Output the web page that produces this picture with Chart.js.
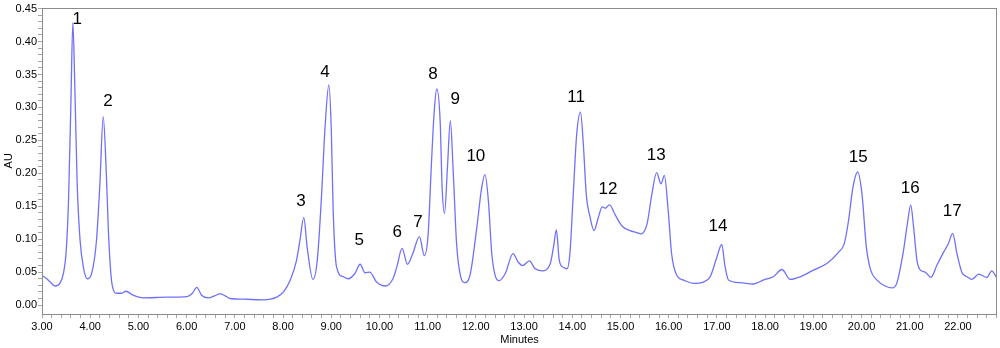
<!DOCTYPE html>
<html>
<head>
<meta charset="utf-8">
<script src="https://cdn.jsdelivr.net/npm/chart.js@4/dist/chart.umd.min.js"></script>
<style>
  html, body { margin: 0; padding: 0; background: #fff; }
  #wrap { width: 1000px; height: 348px; position: relative; }
</style>
</head>
<body>
<div id="wrap"><canvas id="chromChart"></canvas></div>
<script>
// Retention times (minutes) and absorbance (AU)
const times = [
  3.00, 3.10, 3.17, 3.27, 3.37, 3.45, 3.50, 3.55, 3.60, 3.64, 3.68, 3.73, 3.79, 3.86, 3.94,
  4.03, 4.13, 4.20, 4.27, 4.33, 4.38, 4.45, 4.55, 4.65, 4.74, 4.89, 5.10, 5.59, 6.01, 6.12,
  6.21, 6.31, 6.45, 6.58, 6.69, 6.80, 6.90, 7.18, 7.59, 7.87, 8.01, 8.15, 8.28, 8.35, 8.43,
  8.50, 8.62, 8.71, 8.80, 8.87, 8.95, 9.00, 9.04, 9.11, 9.25, 9.35, 9.49, 9.60, 9.70, 9.80,
  9.94, 10.12, 10.28, 10.36, 10.47, 10.58, 10.69, 10.83, 10.93, 11.01, 11.08, 11.14, 11.19, 11.26, 11.30,
  11.35, 11.41, 11.47, 11.53, 11.60, 11.67, 11.76, 11.88, 12.02, 12.12, 12.19, 12.26, 12.33, 12.40, 12.48,
  12.61, 12.77, 12.88, 12.97, 13.11, 13.23, 13.37, 13.54, 13.61, 13.67, 13.73, 13.82, 13.89, 13.95, 14.02,
  14.09, 14.17, 14.23, 14.29, 14.37, 14.45, 14.54, 14.62, 14.68, 14.77, 14.89, 15.03, 15.20, 15.34, 15.42,
  15.55, 15.65, 15.75, 15.84, 15.91, 15.99, 16.06, 16.17, 16.31, 16.51, 16.72, 16.86, 17.00, 17.10, 17.17,
  17.24, 17.48, 17.76, 17.96, 18.17, 18.35, 18.52, 18.73, 19.00, 19.28, 19.52, 19.64, 19.73, 19.82, 19.92,
  20.01, 20.10, 20.19, 20.32, 20.49, 20.63, 20.73, 20.86, 20.96, 21.02, 21.08, 21.15, 21.22, 21.32, 21.44,
  21.56, 21.70, 21.80, 21.89, 21.98, 22.08, 22.19, 22.29, 22.43, 22.60, 22.70, 22.80
];
const absorbance = [
  0.045, 0.040, 0.035, 0.029, 0.033, 0.050, 0.080, 0.158, 0.309, 0.429, 0.334, 0.183, 0.098, 0.057, 0.040,
  0.048, 0.098, 0.183, 0.286, 0.208, 0.108, 0.033, 0.018, 0.018, 0.021, 0.015, 0.011, 0.012, 0.013, 0.018,
  0.027, 0.015, 0.011, 0.014, 0.017, 0.014, 0.010, 0.009, 0.008, 0.012, 0.020, 0.038, 0.068, 0.098, 0.133,
  0.088, 0.039, 0.068, 0.168, 0.268, 0.334, 0.268, 0.143, 0.058, 0.043, 0.040, 0.048, 0.062, 0.049, 0.050,
  0.035, 0.029, 0.040, 0.058, 0.086, 0.062, 0.078, 0.104, 0.075, 0.108, 0.218, 0.298, 0.328, 0.278, 0.178,
  0.139, 0.208, 0.280, 0.203, 0.093, 0.048, 0.034, 0.046, 0.118, 0.178, 0.198, 0.158, 0.078, 0.045, 0.037,
  0.048, 0.078, 0.065, 0.060, 0.067, 0.055, 0.052, 0.062, 0.088, 0.114, 0.068, 0.057, 0.055, 0.078, 0.168,
  0.258, 0.293, 0.243, 0.168, 0.133, 0.113, 0.133, 0.149, 0.147, 0.152, 0.137, 0.120, 0.113, 0.110, 0.108,
  0.123, 0.168, 0.201, 0.184, 0.197, 0.143, 0.078, 0.045, 0.038, 0.033, 0.035, 0.043, 0.073, 0.092, 0.058,
  0.038, 0.034, 0.032, 0.038, 0.043, 0.054, 0.039, 0.043, 0.053, 0.063, 0.080, 0.093, 0.128, 0.178, 0.202,
  0.168, 0.088, 0.053, 0.038, 0.029, 0.026, 0.033, 0.078, 0.128, 0.152, 0.118, 0.068, 0.053, 0.050, 0.042,
  0.060, 0.080, 0.093, 0.109, 0.078, 0.050, 0.043, 0.039, 0.047, 0.042, 0.052, 0.042
];

// Peak numbers and where their labels sit (in minutes / AU)
const peakNames = ['1','2','3','4','5','6','7','8','9','10','11','12','13','14','15','16','17'];
const peakLabelX = [3.73, 4.37, 8.37, 8.87, 9.58, 10.37, 10.80, 11.11, 11.57, 12.00, 14.08, 14.74, 15.74, 17.02, 19.93, 21.01, 21.88];
const peakLabelY = [0.433, 0.309, 0.158, 0.354, 0.098, 0.110, 0.126, 0.351, 0.312, 0.226, 0.315, 0.175, 0.227, 0.119, 0.224, 0.178, 0.143];

const xMin = 3.00, xMax = 22.81;
const yMin = -0.0135, yMax = 0.4515;

const FONT = '"Liberation Sans", Arial, sans-serif';
const lineColor = 'rgb(112,112,250)';
const frameColor = '#8c8c8c';
const tickColor = '#a8a898';

// Frame, peak numbers and axis titles
const decorPlugin = {
  id: 'decor',
  afterDatasetsDraw(chart) {
    const ctx = chart.ctx;
    const a = chart.chartArea;
    const xs = chart.scales.x, ys = chart.scales.y;
    ctx.save();
    ctx.strokeStyle = frameColor;
    ctx.lineWidth = 1;
    ctx.strokeRect(Math.round(a.left) + 0.5, Math.round(a.top) + 0.5,
                   Math.round(a.right - a.left) - 1, Math.round(a.bottom - a.top));

    ctx.fillStyle = '#000';
    ctx.font = '17px ' + FONT;
    ctx.textAlign = 'center';
    ctx.textBaseline = 'middle';
    peakNames.forEach((name, i) => {
      ctx.fillText(name, xs.getPixelForValue(peakLabelX[i]), ys.getPixelForValue(peakLabelY[i]));
    });

    ctx.font = '11px ' + FONT;
    ctx.fillText('Minutes', (a.left + a.right) / 2, 340);
    ctx.translate(9, (a.top + a.bottom) / 2);
    ctx.rotate(-Math.PI / 2);
    ctx.fillText('AU', 0, 0);
    ctx.restore();
  }
};

const ctx = document.getElementById('chromChart').getContext('2d');
new Chart(ctx, {
  type: 'line',
  data: {
    datasets: [{
      data: times.map((t, i) => ({ x: t, y: absorbance[i] })),
      borderColor: lineColor,
      borderWidth: 1.3,
      pointRadius: 0,
      fill: false,
      cubicInterpolationMode: 'monotone'
    }]
  },
  options: {
    responsive: true,
    maintainAspectRatio: false,
    animation: false,
    layout: { padding: { top: 5, right: 3, left: 0, bottom: 0 } },
    plugins: {
      legend: { display: false },
      tooltip: { enabled: false }
    },
    scales: {
      x: {
        type: 'linear',
        min: xMin,
        max: xMax,
        afterBuildTicks: function(scale) {
          const ticks = [];
          for (let i = 15; i <= 114; i++) ticks.push({ value: i / 5 });
          scale.ticks = ticks;
        },
        afterFit: function(scale) { scale.height = 34; },
        ticks: {
          autoSkip: false,
          maxRotation: 0,
          padding: 2,
          color: '#000',
          font: { family: FONT, size: 11 },
          callback: function(v) {
            return Math.abs(v - Math.round(v)) < 1e-6 ? v.toFixed(2) : '';
          }
        },
        grid: {
          drawOnChartArea: false,
          tickLength: 4,
          color: tickColor
        },
        border: { display: false }
      },
      y: {
        min: yMin,
        max: yMax,
        afterBuildTicks: function(scale) {
          const ticks = [];
          for (let i = 0; i <= 45; i++) ticks.push({ value: i / 100 });
          scale.ticks = ticks;
        },
        afterFit: function(scale) { scale.width = 42; },
        ticks: {
          autoSkip: false,
          padding: 1,
          color: '#000',
          font: { family: FONT, size: 11 },
          callback: function(v) {
            const k = Math.round(v * 100);
            return k % 5 === 0 ? (k / 100).toFixed(2) : '';
          }
        },
        grid: {
          drawOnChartArea: false,
          tickLength: 4,
          color: tickColor
        },
        border: { display: false }
      }
    }
  },
  plugins: [decorPlugin]
});
</script>
</body>
</html>
